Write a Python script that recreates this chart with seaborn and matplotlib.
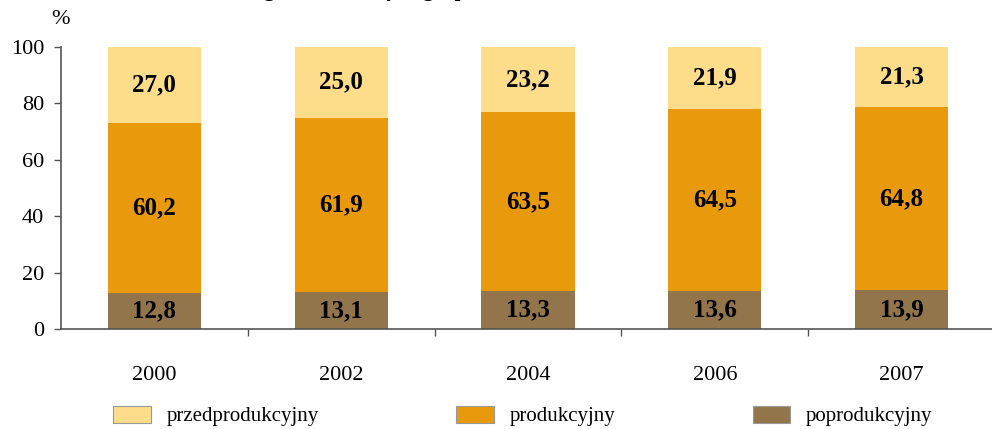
import matplotlib
matplotlib.use("Agg")
import matplotlib.pyplot as plt
import matplotlib.patches as mpatches
from matplotlib.ticker import FixedLocator
import pandas as pd
import seaborn as sns

# Data (percent shares)
years = ["2000", "2002", "2004", "2006", "2007"]
przedprodukcyjny = [27.0, 25.0, 23.2, 21.9, 21.3]
produkcyjny = [60.2, 61.9, 63.5, 64.5, 64.8]
poprodukcyjny = [12.8, 13.1, 13.3, 13.6, 13.9]

labels = ["przedprodukcyjny", "produkcyjny", "poprodukcyjny"]
colors = ["#FDDC8A", "#E89A0C", "#92754A"]

df = pd.DataFrame({
    "rok": years,
    "przed": przedprodukcyjny,
    "prod": produkcyjny,
    "po": poprodukcyjny,
})
df["bottom_prod"] = df["po"]
df["bottom_przed"] = df["po"] + df["prod"]

sns.set_style("white")
plt.rcParams["font.family"] = ["Liberation Serif", "DejaVu Serif"]
plt.rcParams["text.color"] = "black"
plt.rcParams["xtick.color"] = "black"
plt.rcParams["ytick.color"] = "black"

fig = plt.figure(figsize=(9.92, 4.29), dpi=100)
ax = fig.add_axes([61 / 992, 1 - 329 / 429, 934 / 992, 282 / 429])

# stacked bars: bottom -> middle -> top
bar_kw = dict(width=0.5, saturation=1, linewidth=0, ax=ax)
sns.barplot(data=df, x="rok", y="po", color=colors[2], **bar_kw)
sns.barplot(data=df, x="rok", y="prod", bottom=df["bottom_prod"],
            color=colors[1], **bar_kw)
sns.barplot(data=df, x="rok", y="przed", bottom=df["bottom_przed"],
            color=colors[0], **bar_kw)

# value labels
def fmt(v):
    return f"{v:.1f}".replace(".", ",")

for i in range(len(years)):
    ax.text(i, df["po"][i] / 2, fmt(poprodukcyjny[i]), ha="center",
            va="center", fontsize=18, fontweight="bold")
    ax.text(i, df["bottom_prod"][i] + produkcyjny[i] / 2, fmt(produkcyjny[i]),
            ha="center", va="center", fontsize=18, fontweight="bold")
    ax.text(i, df["bottom_przed"][i] + przedprodukcyjny[i] / 2,
            fmt(przedprodukcyjny[i]), ha="center", va="center",
            fontsize=18, fontweight="bold")

ax.set_xlim(-0.5, len(years) - 0.5)
ax.set_ylim(0, 100)
ax.set_yticks([0, 20, 40, 60, 80, 100])
ax.set_xlabel("")
ax.set_ylabel("")

for s in ["top", "right"]:
    ax.spines[s].set_visible(False)
for s in ["left", "bottom"]:
    ax.spines[s].set_color("#555555")
    ax.spines[s].set_linewidth(1.2)

ax.tick_params(axis="y", direction="out", length=5, width=1, color="#555555",
               labelsize=16, pad=7, left=True)
ax.tick_params(axis="x", which="major", length=0, labelsize=16, pad=27)
ax.xaxis.set_minor_locator(FixedLocator([0.5, 1.5, 2.5, 3.5]))
ax.tick_params(axis="x", which="minor", direction="out", length=5, width=1,
               color="#555555", bottom=True)

fig.text(60 / 992, 1 - 20 / 429, "%", ha="center", va="center", fontsize=16)

# title mostly cut off at the top of the image
fig.text(75 / 992, 1 + 4 / 429,
         "Struktura ludności wg ekonomicznych grup wieku",
         ha="left", va="baseline", fontsize=15, fontweight="bold")

handles = [mpatches.Patch(facecolor=c, edgecolor="#999999", linewidth=0.8, label=l)
           for c, l in zip(colors, labels)]
fig.legend(handles=handles, loc="center", bbox_to_anchor=(0.527, 1 - 416 / 429),
           ncol=3, frameon=False, fontsize=15, handlelength=1.8,
           handleheight=0.9, handletextpad=0.75, columnspacing=6.6)

fig.savefig("out.png", dpi=100)
